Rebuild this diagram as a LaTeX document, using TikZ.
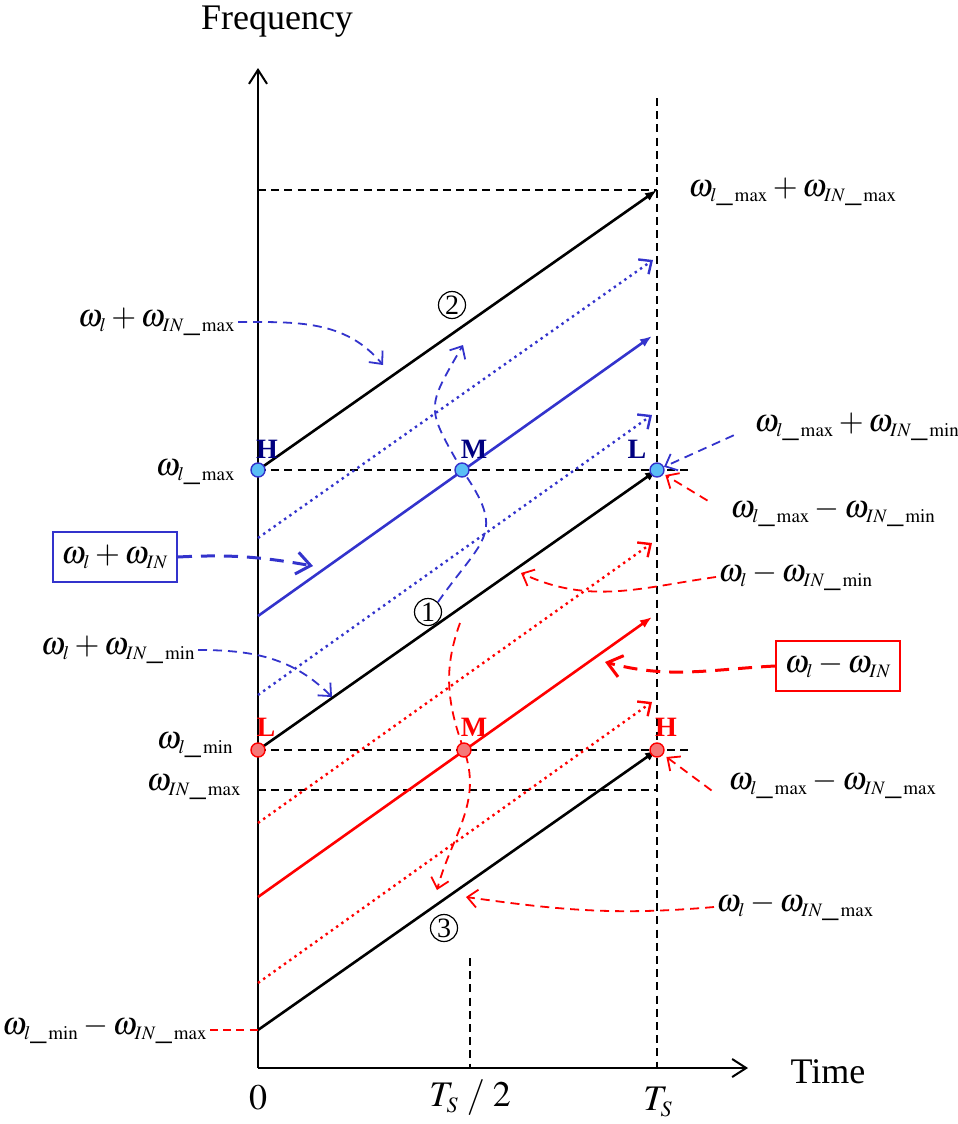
\documentclass[tikz,border=0pt]{standalone}
\usepackage{mathptmx}
\usepackage{fontspec}
\setmainfont{Liberation Serif}
\DeclareMathSizes{16}{16}{9.5}{7}
\DeclareMathSizes{18}{18}{11}{8}
\usetikzlibrary{arrows.meta}
\definecolor{myblue}{RGB}{51,51,204}
\definecolor{myred}{RGB}{255,0,0}
\definecolor{dotblue}{RGB}{90,190,245}
\definecolor{dotred}{RGB}{245,120,120}
\definecolor{navy}{RGB}{0,0,128}
\tikzset{axis/.style={line width=1pt,-{Straight Barb[length=7pt,width=9pt]}},
  guide/.style={line width=0.9pt,dash pattern=on 4pt off 2.6pt},
  kline/.style={line width=1.3pt,-{Latex[length=6pt,width=4.5pt]}},
  dline/.style={line width=1.2pt,dotted,-{Straight Barb[length=5pt,width=9pt,line width=1.2pt]}},
  carrow/.style={line width=0.9pt,dash pattern=on 4.5pt off 3pt,-{Straight Barb[length=5pt,width=9pt]}},
  bigcarrow/.style={line width=1.5pt,dash pattern=on 7pt off 4.5pt,-{Straight Barb[length=7pt,width=11pt]}},
  bmark/.style={circle,draw=myblue,fill=dotblue,line width=0.7pt,inner sep=0pt,minimum size=7pt},
  rmark/.style={circle,draw=myred,fill=dotred,line width=0.7pt,inner sep=0pt,minimum size=7pt},
  ptlbl/.style={font=\fontsize{14}{16}\selectfont\bfseries},
  lbl/.style={font=\fontsize{16}{19}\selectfont,inner sep=1pt},
  boxlbl/.style={lbl,draw,line width=1pt,minimum width=62pt,minimum height=25pt},
  axislbl/.style={font=\fontsize{18}{21}\selectfont},
  ticklbl/.style={font=\fontsize{18}{21}\selectfont},
  circnum/.style={circle,draw,line width=0.6pt,inner sep=0pt,minimum size=13.5pt,font=\fontsize{14}{14}\selectfont}
}
\begin{document}
\begin{tikzpicture}[x=0.5pt,y=-0.5pt]
  \useasboundingbox (0,0) rectangle (958,1124);

  % Axes
  \coordinate (o) at (258,1068);
  \coordinate (ytop) at (258,68);
  \coordinate (xend) at (748,1068);
  \draw[axis] (o) -- (ytop);
  \draw[axis] (o) -- (xend);
  \node[axislbl] (freq) at (277,22) {Frequency};
  \node[axislbl] (time) at (828,1072) {Time};
  \node[ticklbl] (zero) at (258,1098) {$0$};
  \node[ticklbl] (half) at (470,1098) {$T_S\;/\;2$};
  \node[ticklbl] (ts) at (658,1102) {$T_S$};

  % Guide lines
  \coordinate (tstop) at (657,98);
  \coordinate (tsbot) at (657,1068);
  \coordinate (htop) at (470,958);
  \coordinate (hbot) at (470,1068);
  \draw[guide] (tstop) -- (tsbot);
  \draw[guide] (htop) -- (hbot);
  \draw[guide] (258,190) -- (657,190);
  \draw[guide] (258,470) -- (692,470);
  \draw[guide] (258,750) -- (692,750);
  \draw[guide] (258,790) -- (657,790);

  % Key points
  \coordinate (bh) at (258,470);
  \coordinate (bm) at (462,470);
  \coordinate (bl) at (657,470);
  \coordinate (rl) at (258,750);
  \coordinate (rm) at (464,750);
  \coordinate (rh) at (657,750);
  \coordinate (kbot) at (258,1030);
  \coordinate (kend) at (657,190);

  % Black lines
  \draw[kline] (bh) -- (kend);
  \draw[kline] (rl) -- (bl);
  \draw[kline] (kbot) -- (rh);

  % Sum band
  \draw[dline,myblue] (258,538) -- (653,260);
  \draw[kline,myblue] (258,616) -- (652,336);
  \draw[dline,myblue] (258,695) -- (652,415);

  % Difference band
  \draw[dline,myred] (258,823) -- (652,543);
  \draw[kline,myred] (258,897) -- (652,617);
  \draw[dline,myred] (258,983) -- (652,702);

  % Circled numbers
  \node[circnum] (n2) at (452,305) {2};
  \node[circnum] (n1) at (428,612) {1};
  \node[circnum] (n3) at (444,928) {3};

  % Left labels
  \node[lbl,anchor=east] (la) at (238,322) {$\omega_l+\omega_{IN\_\max}$};
  \node[lbl,anchor=east] (lmax) at (238,472) {$\omega_{l\_\max}$};
  \node[boxlbl,draw=myblue] (bbox) at (115,557) {$\omega_l+\omega_{IN}$};
  \node[lbl,anchor=east] (lc) at (198,650) {$\omega_l+\omega_{IN\_\min}$};
  \node[lbl,anchor=east] (lmin) at (236,745) {$\omega_{l\_\min}$};
  \node[lbl,anchor=east] (linmax) at (244,787) {$\omega_{IN\_\max}$};
  \node[lbl,anchor=east] (lbot) at (210,1030) {$\omega_{l\_\min}-\omega_{IN\_\max}$};

  % Right labels
  \node[lbl,anchor=west] (l8) at (686,192) {$\omega_{l\_\max}+\omega_{IN\_\max}$};
  \node[lbl,anchor=west] (l9) at (752,427) {$\omega_{l\_\max}+\omega_{IN\_\min}$};
  \node[lbl,anchor=west] (l10) at (728,513) {$\omega_{l\_\max}-\omega_{IN\_\min}$};
  \node[lbl,anchor=west] (l11) at (716,577) {$\omega_l-\omega_{IN\_\min}$};
  \node[boxlbl,draw=myred] (rbox) at (838,666) {$\omega_l-\omega_{IN}$};
  \node[lbl,anchor=west] (l13) at (726,785) {$\omega_{l\_\max}-\omega_{IN\_\max}$};
  \node[lbl,anchor=west] (l14) at (714,907) {$\omega_l-\omega_{IN\_\max}$};

  % Targets
  \coordinate (ta) at (383,365);
  \coordinate (tb) at (313,566);
  \coordinate (tc) at (332,697);
  \coordinate (t2) at (463,345);
  \coordinate (t11) at (521,573);
  \coordinate (t12) at (605,662);
  \coordinate (t14) at (466,897);
  \coordinate (t3) at (437,890);
  \coordinate (rs) at (460,623);

  % Pointers to lines
  \draw[carrow,myblue] (la.east) to[out=0,in=130] (ta);
  \draw[bigcarrow,myblue] (bbox.east) to[out=3,in=170] (tb);
  \draw[carrow,myblue] (lc.east) to[out=0,in=135] (tc);
  \draw[carrow,myblue] (n1.north east) to[out=55,in=-55,looseness=1.5] (bm)
    to[out=120,in=-120,looseness=1.5] (t2);
  \draw[carrow,myred] (rs) to[out=-110,in=110] (rm) to[out=-70,in=75] (t3);
  \draw[carrow,myred] (l11.west) to[out=188,in=-25] (t11);
  \draw[bigcarrow,myred] (rbox.west) to[out=183,in=-15] (t12);
  \draw[carrow,myred] (l14.west) to[out=185,in=-8] (t14);
  \draw[guide,myred] (lbot.east) -- (kbot);

  % Marked points
  \node[bmark] (bH) at (bh) {};
  \node[bmark] (bM) at (bm) {};
  \node[bmark] (bL) at (bl) {};
  \node[rmark] (rL) at (rl) {};
  \node[rmark] (rM) at (rm) {};
  \node[rmark] (rH) at (rh) {};
  \node[ptlbl,navy] (bHt) at (267,449) {H};
  \node[ptlbl,navy] (bMt) at (474,449) {M};
  \node[ptlbl,navy] (bLt) at (637,449) {L};
  \node[ptlbl,myred] (rLt) at (266,727) {L};
  \node[ptlbl,myred] (rMt) at (474,727) {M};
  \node[ptlbl,myred] (rHt) at (666,727) {H};

  % Pointers to marked points
  \draw[carrow,myblue,shorten <=10pt] (l9.west) -- (bL);
  \draw[carrow,myred,shorten <=12pt,shorten >=1pt] (l10.west) -- (bL);
  \draw[carrow,myred,shorten <=9pt,shorten >=2pt] (l13.south west) -- (rH);
\end{tikzpicture}
\end{document}
